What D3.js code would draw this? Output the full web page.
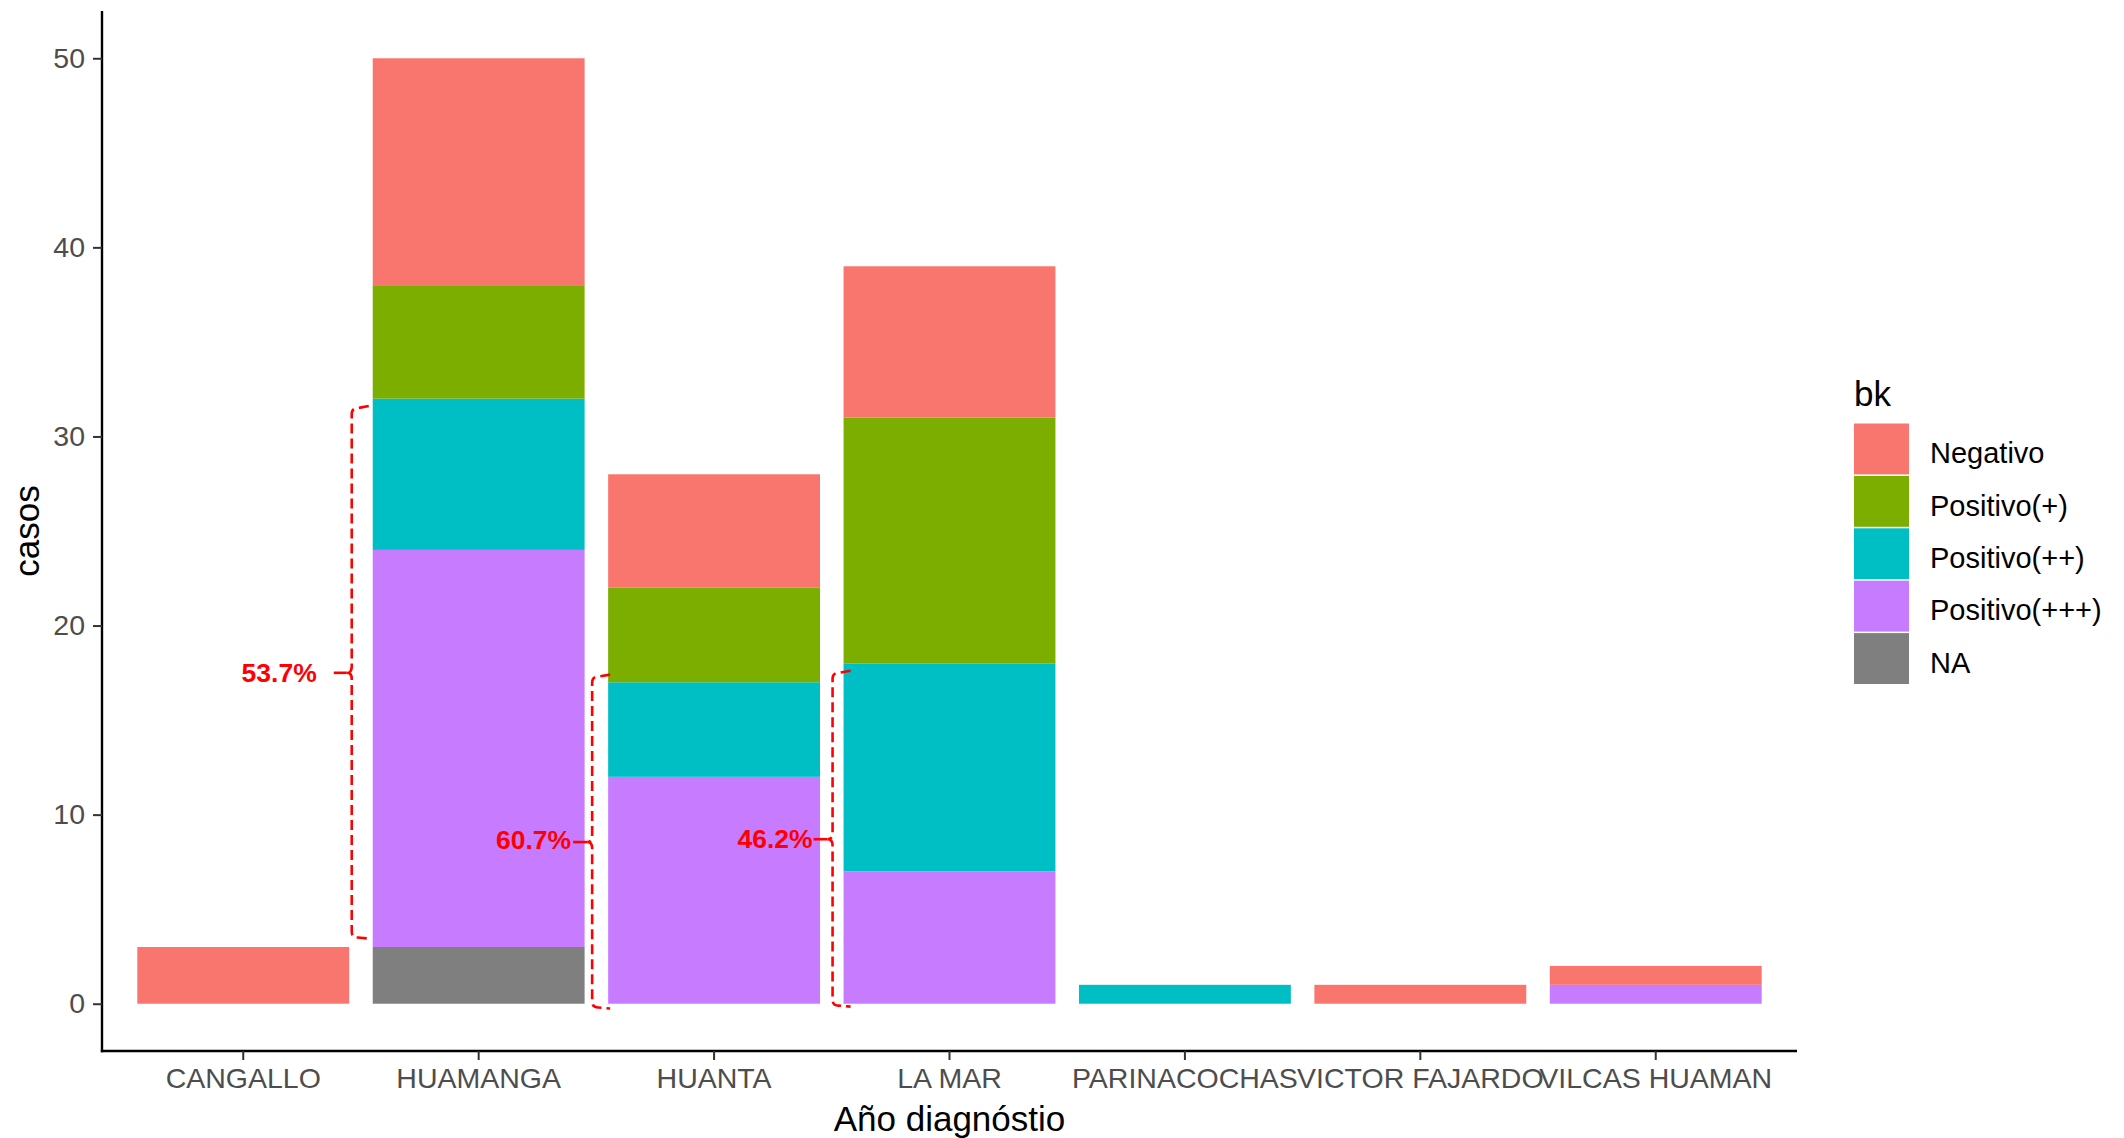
<!DOCTYPE html>
<html>
<head>
<meta charset="utf-8">
<script src="https://cdn.jsdelivr.net/npm/d3@7"></script>
<style>
  html, body { margin: 0; padding: 0; background: #ffffff; }
  svg { display: block; }
</style>
</head>
<body>
<script>
// ---- data ----
const categories = ["CANGALLO", "HUAMANGA", "HUANTA", "LA MAR", "PARINACOCHAS", "VICTOR FAJARDO", "VILCAS HUAMAN"];
const seriesNames = ["Negativo", "Positivo(+)", "Positivo(++)", "Positivo(+++)", "NA"];
const negativo   = [3, 12, 6, 8, 0, 1, 1];
const positivo1  = [0, 6, 5, 13, 0, 0, 0];
const positivo2  = [0, 8, 5, 11, 1, 0, 0];
const positivo3  = [0, 21, 12, 7, 0, 0, 1];
const naValues   = [0, 3, 0, 0, 0, 0, 0];
const yTicks = [0, 10, 20, 30, 40, 50];
const seriesColors = ["#F8766D", "#7CAE00", "#00BFC4", "#C77CFF", "#7F7F7F"];
const xTitle = "Año diagnóstio";
const yTitle = "casos";
const legendTitle = "bk";
// annotation brackets (value ranges)
const bracketCategories = ["HUAMANGA", "HUANTA", "LA MAR"];
const bracketLow  = [3.5, -0.2, -0.1];
const bracketHigh = [31.5, 17.3, 17.5];
const bracketLabels = ["53.7%", "60.7%", "46.2%"];

// ---- build table ----
const seriesValues = [negativo, positivo1, positivo2, positivo3, naValues];
const rows = categories.map((c, i) => {
  const r = { cat: c };
  seriesNames.forEach((s, j) => r[s] = seriesValues[j][i]);
  return r;
});
// stack bottom -> top : NA, +++, ++, +, Negativo
const stackOrder = seriesNames.slice().reverse();
const stacked = d3.stack().keys(stackOrder)(rows);
const color = d3.scaleOrdinal().domain(seriesNames).range(seriesColors);

const W = 2124, H = 1138;
const svg = d3.select("body").append("svg").attr("width", W).attr("height", H);

const panel = { left: 102, right: 1797, top: 11, bottom: 1051 };
const x = d3.scaleBand().domain(categories).range([panel.left, panel.right])
  .paddingInner(0.1).paddingOuter(0.15);
const y = d3.scaleLinear().domain([-2.5, 52.5]).range([panel.bottom, panel.top]);

// bars
svg.append("g").selectAll("g").data(stacked).join("g")
  .attr("fill", d => color(d.key))
  .selectAll("rect").data(d => d.filter(p => p[1] - p[0] > 0)).join("rect")
  .attr("x", d => x(d.data.cat))
  .attr("width", x.bandwidth())
  .attr("y", d => y(d[1]))
  .attr("height", d => y(d[0]) - y(d[1]));

const font = "'Liberation Sans', Arial, sans-serif";

// x axis
const gx = svg.append("g").attr("transform", `translate(0,${panel.bottom})`)
  .call(d3.axisBottom(x).tickSizeOuter(0).tickSize(9).tickPadding(8));
gx.select(".domain").attr("stroke", "#000").attr("stroke-width", 2.4)
  .attr("d", `M${panel.left - 1.2},0H${panel.right}`);
gx.selectAll(".tick line").attr("stroke", "#333").attr("stroke-width", 2);
gx.selectAll(".tick text").attr("fill", "#4D4D4D").style("font-family", font)
  .style("font-size", "28.5px").attr("dy", "0.71em");

// y axis
const gy = svg.append("g").attr("transform", `translate(${panel.left},0)`)
  .call(d3.axisLeft(y).tickValues(yTicks).tickSizeOuter(0).tickSize(9).tickPadding(8));
gy.select(".domain").attr("stroke", "#000").attr("stroke-width", 2.4)
  .attr("d", `M0,${panel.top}V${panel.bottom + 1.2}`);
gy.selectAll(".tick line").attr("stroke", "#333").attr("stroke-width", 2);
gy.selectAll(".tick text").attr("fill", "#4D4D4D").style("font-family", font)
  .style("font-size", "28.5px");

// axis titles
svg.append("text").attr("x", (panel.left + panel.right) / 2).attr("y", 1131)
  .attr("text-anchor", "middle").style("font-family", font).style("font-size", "35px")
  .attr("fill", "#000").text(xTitle);
svg.append("text").attr("transform", `translate(39,${(panel.top + panel.bottom) / 2}) rotate(-90)`)
  .attr("text-anchor", "middle").style("font-family", font).style("font-size", "35px")
  .attr("fill", "#000").text(yTitle);

// legend
const lg = svg.append("g").attr("transform", "translate(1854,0)");
lg.append("text").attr("x", 0).attr("y", 406).style("font-family", font)
  .style("font-size", "35px").attr("fill", "#000").text(legendTitle);
const keyH = 52.4, keyW = 55, keyTop = 423.5;
seriesNames.forEach((s, i) => {
  lg.append("rect").attr("x", 0).attr("y", keyTop + i * keyH)
    .attr("width", keyW).attr("height", keyH - 1.5).attr("fill", color(s));
  lg.append("text").attr("x", 76).attr("y", keyTop + i * keyH + keyH / 2 + 3)
    .attr("dy", "0.36em").style("font-family", font).style("font-size", "29px")
    .attr("fill", "#000").text(s);
});

// annotation brackets
const bracketLayout = [
  { gap: 21, hook: 17, textGap: 35, ptrStart: 18, textDy: 0 },
  { gap: 16, hook: 18, textGap: 21, ptrStart: 19, textDy: -3 },
  { gap: 11, hook: 18, textGap: 20, ptrStart: 19, textDy: -1 }
];
const ann = svg.append("g");
bracketCategories.forEach((c, i) => {
  const lay = bracketLayout[i];
  const x0 = x(c) - lay.gap;
  const xr = x0 + lay.hook;
  const yt = y(bracketHigh[i]);
  const yb = y(bracketLow[i]);
  const ym = (yt + yb) / 2;
  const r = 6;
  const p = `M${xr},${yt - 2} L${x0 + r},${yt} Q${x0},${yt} ${x0},${yt + r}`
    + ` L${x0},${ym - 6} Q${x0},${ym} ${x0 - 5},${ym}`
    + ` M${x0 - 5},${ym} Q${x0},${ym} ${x0},${ym + 6}`
    + ` L${x0},${yb - r} Q${x0},${yb} ${x0 + r},${yb} L${xr},${yb + 1}`;
  ann.append("path").attr("d", p).attr("fill", "none").attr("stroke", "#FF0000")
    .attr("stroke-width", 2.6).attr("stroke-dasharray", "10,5");
  // pointer
  ann.append("line").attr("x1", x0 - lay.ptrStart).attr("x2", x0 - 5).attr("y1", ym).attr("y2", ym)
    .attr("stroke", "#FF0000").attr("stroke-width", 2.6);
  ann.append("text").attr("x", x0 - lay.textGap).attr("y", ym + lay.textDy).attr("dy", "0.36em")
    .attr("text-anchor", "end").style("font-family", font).style("font-weight", "bold")
    .style("font-size", "26.5px").attr("fill", "#FF0000").text(bracketLabels[i]);
});
</script>
</body>
</html>
